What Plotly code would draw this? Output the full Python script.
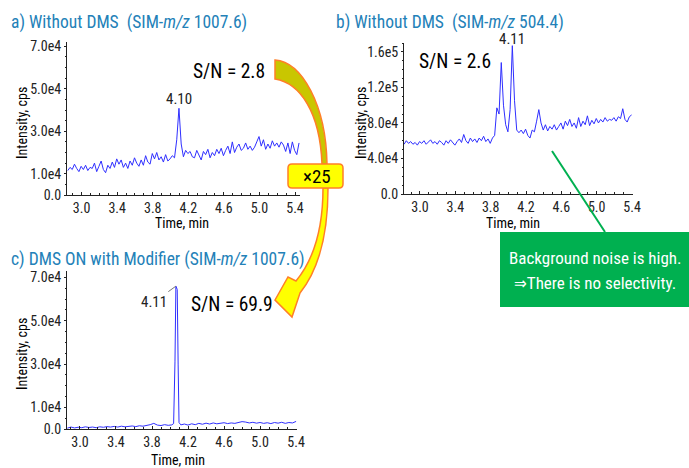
import numpy as np
import plotly.graph_objects as go

# ---------------- data ----------------
# panel a: without DMS, SIM m/z 1007.6 (intensity in thousands cps)
a_t0, a_step = 2.845, 0.025
a_vals = [11.5, 13.0, 12.0, 14.5, 12.5, 11.0, 13.5, 12.0, 14.0, 11.5,
          13.0, 12.5, 15.0, 11.0, 13.5, 16.0, 12.0, 10.5, 14.0, 12.5,
          15.5, 13.0, 17.0, 14.5, 16.5, 13.0, 15.0, 12.5, 16.0, 14.0,
          17.5, 15.0, 13.5, 16.5, 14.0, 18.5, 15.5, 14.5, 19.5, 17.0,
          20.0, 16.5, 18.0, 15.5, 19.0, 16.0, 17.0, 18.5, 17.5, 26.0,
          40.8, 24.0, 18.0, 21.0, 19.5, 20.5, 18.0, 17.5, 21.0, 19.0,
          16.5, 20.5, 19.0, 21.5, 17.5, 20.0, 18.5, 21.5, 19.5, 22.0,
          18.5, 21.0, 23.0, 19.5, 25.0, 20.0, 22.5, 24.0, 21.0, 22.0,
          24.5, 21.5, 23.0, 21.0, 22.5, 25.0, 27.5, 23.0, 26.0, 21.5,
          24.0, 22.0, 25.5, 23.0, 24.5, 22.5, 25.0, 23.5, 20.5, 24.5,
          19.5, 25.0, 21.0, 19.0, 24.5]
a_time = [round(a_t0 + a_step * i, 3) for i in range(len(a_vals))]

# panel b: without DMS, SIM m/z 504.4
b_t0, b_step = 2.82, 0.025
b_vals = [56, 60, 57, 59, 56, 58, 55, 59, 57, 60,
          56, 58, 61, 57, 59, 56, 60, 58, 55, 60,
          57, 61, 58, 55, 59, 62, 58, 67, 60, 57,
          63, 59, 62, 58, 63, 60, 65, 59, 62, 57,
          63, 66, 97, 90, 148, 100, 78, 70, 95, 167,
          105, 72, 69, 72, 68, 73, 66, 63, 72, 70,
          82, 95, 80, 72, 78, 71, 76, 73, 78, 72,
          76, 80, 73, 82, 77, 84, 76, 80, 74, 86,
          76, 82, 78, 88, 77, 83, 79, 85, 80, 84,
          81, 86, 82, 84, 83, 86, 82, 87, 85, 96,
          84, 81, 87, 89]
b_time = [round(b_t0 + b_step * i, 3) for i in range(len(b_vals))]

# panel c: DMS ON with modifier, SIM m/z 1007.6
c_time = [2.86, 2.90, 2.94, 2.98, 3.02, 3.06, 3.10, 3.14, 3.18, 3.22,
          3.26, 3.30, 3.34, 3.38, 3.42, 3.46, 3.50, 3.54, 3.58, 3.62,
          3.66, 3.70, 3.74, 3.78, 3.82, 3.86, 3.90, 3.94, 3.98, 4.02,
          4.04, 4.055, 4.065, 4.08, 4.09, 4.10, 4.12, 4.16, 4.20, 4.24,
          4.28, 4.32, 4.36, 4.40, 4.44, 4.48, 4.52, 4.56, 4.60, 4.64,
          4.68, 4.72, 4.76, 4.80, 4.84, 4.88, 4.92, 4.96, 5.00, 5.04,
          5.08, 5.12, 5.16, 5.20, 5.24, 5.28, 5.32, 5.36, 5.40]
c_vals = [0.4, 0.9, 0.5, 0.8, 0.6, 1.0, 0.7, 0.9, 0.6, 1.0,
          0.8, 1.1, 0.9, 1.2, 0.9, 1.3, 1.0, 1.2, 1.4, 1.1,
          1.5, 1.3, 1.6, 2.0, 2.6, 1.8, 1.6, 2.0, 1.7, 1.9,
          2.5, 31.0, 66.0, 64.5, 30.0, 3.0, 1.9, 2.3, 1.8, 2.4,
          2.0, 2.6, 2.2, 2.7, 2.3, 2.8, 2.4, 2.6, 2.9, 2.5,
          2.8, 2.6, 3.0, 3.4, 3.2, 2.8, 3.1, 2.7, 3.0, 2.6,
          2.9, 2.5, 3.0, 2.7, 3.1, 2.6, 3.0, 2.8, 3.5]

x_ticks = [3.0, 3.4, 3.8, 4.2, 4.6, 5.0, 5.4]
x_ticktext = ["3.0", "3.4", "3.8", "4.2", "4.6", "5.0", "5.4"]
ya_ticks = [0, 10000, 30000, 50000, 70000]
ya_text = ["0.0", "1.0e4", "3.0e4", "5.0e4", "7.0e4"]
yb_ticks = [0, 40000, 80000, 120000, 160000]
yb_text = ["0.0", "4.0e4", "8.0e4", "1.2e5", "1.6e5"]

peak_labels = ["4.10", "4.11", "4.11"]
sn_texts = ["S/N = 2.8", "S/N = 2.6", "S/N = 69.9"]

# ---------------- figure ----------------
W, H = 689, 468
FONT = "Liberation Sans Narrow, Arial Narrow, Roboto Condensed, DejaVu Sans Condensed, sans-serif"
TRACE = "#2f2fff"
TITLE_C = "#2381b8"


def X(p):
    return p / W


def Y(p):
    return 1 - p / H


a_y = np.array(a_vals) * 1000
b_y = np.array(b_vals) * 1000
c_y = np.array(c_vals) * 1000

fig = go.Figure()
fig.add_trace(go.Scatter(x=a_time, y=a_y, mode="lines", line=dict(color=TRACE, width=1),
                         xaxis="x", yaxis="y", showlegend=False))
fig.add_trace(go.Scatter(x=b_time, y=b_y, mode="lines", line=dict(color=TRACE, width=1),
                         xaxis="x2", yaxis="y2", showlegend=False))
fig.add_trace(go.Scatter(x=c_time, y=c_y, mode="lines", line=dict(color=TRACE, width=1),
                         xaxis="x3", yaxis="y3", showlegend=False))

axis_common = dict(showline=True, linecolor="#222", linewidth=1, showgrid=False,
                   zeroline=False, tickcolor="#222", automargin=False,
                   tickfont=dict(family=FONT, size=14, color="#222"), fixedrange=True)


def xaxis(dom, rng, anchor):
    return dict(axis_common, domain=dom, range=rng, anchor=anchor,
                tickmode="array", tickvals=x_ticks, ticktext=x_ticktext,
                ticks="inside", ticklen=3,
                minor=dict(dtick=0.1, tick0=3.0, ticks="inside", ticklen=2, tickcolor="#222"))


def yaxis(dom, rng, anchor, tv, tt, mdt):
    return dict(axis_common, domain=dom, range=rng, anchor=anchor,
                tickmode="array", tickvals=tv, ticktext=tt, ticks="outside", ticklen=2,
                minor=dict(dtick=mdt, tick0=0, ticks="outside", ticklen=1, tickcolor="#222"))


fig.update_layout(
    template="none",
    width=W, height=H, margin=dict(l=0, r=0, t=0, b=0, pad=0, autoexpand=False),
    paper_bgcolor="white", plot_bgcolor="white", showlegend=False,
    font=dict(family=FONT, color="black"),
    xaxis=xaxis([X(67), X(300)], [2.836, 5.456], "y"),
    yaxis=yaxis([Y(195), Y(42)], [0, 72000], "x", ya_ticks, ya_text, 5000),
    xaxis2=xaxis([X(404), X(633)], [2.819, 5.411], "y2"),
    yaxis2=yaxis([Y(194), Y(43)], [0, 170000], "x2", yb_ticks, yb_text, 10000),
    xaxis3=xaxis([X(67), X(297)], [2.856, 5.41], "y3"),
    yaxis3=yaxis([Y(429), Y(271)], [0, 73000], "x3", ya_ticks, ya_text, 5000),
)


def path(cmds):
    out = []
    for c, pts in cmds:
        out.append(c + " " + " ".join(f"{X(px):.5f},{Y(py):.5f}" for px, py in pts))
    return " ".join(out) + " Z"


shapes = []
# green pointer line + callout box
shapes.append(dict(type="line", xref="paper", yref="paper", x0=X(552), y0=Y(151), x1=X(605), y1=Y(232),
                   line=dict(color="#00b050", width=2)))
shapes.append(dict(type="rect", xref="paper", yref="paper", x0=X(500), y0=Y(232), x1=X(689), y1=Y(307),
                   fillcolor="#00b050", line=dict(width=0)))
# curved arrow, upper part
shapes.append(dict(type="path", xref="paper", yref="paper",
                   path=path([("M", [(275, 60)]), ("C", [(302, 62), (326, 105), (327, 164)]),
                              ("L", [(322, 164)]), ("C", [(320, 112), (300, 83), (275, 79)])]),
                   fillcolor="#c9c600", line=dict(color="#ff7f27", width=1.5)))
# curved arrow, lower part with head
shapes.append(dict(type="path", xref="paper", yref="paper",
                   path=path([("M", [(323, 188)]), ("C", [(323, 228), (315, 258), (296, 281)]),
                              ("L", [(288, 277)]), ("L", [(275, 300)]), ("L", [(292, 317)]),
                              ("L", [(300, 293)]), ("C", [(320, 268), (328, 230), (328, 188)])]),
                   fillcolor="#ffff00", line=dict(color="#ff7f27", width=1.5)))
# x25 box (rounded)
x0, x1, y0, y1, r = 288, 343, 164, 188, 4
shapes.append(dict(type="path", xref="paper", yref="paper",
                   path=path([("M", [(x0 + r, y0)]), ("L", [(x1 - r, y0)]), ("Q", [(x1, y0), (x1, y0 + r)]),
                              ("L", [(x1, y1 - r)]), ("Q", [(x1, y1), (x1 - r, y1)]),
                              ("L", [(x0 + r, y1)]), ("Q", [(x0, y1), (x0, y1 - r)]),
                              ("L", [(x0, y0 + r)]), ("Q", [(x0, y0), (x0 + r, y0)])]),
                   fillcolor="#ffff00", line=dict(color="#ff7f27", width=1.5)))
fig.update_layout(shapes=shapes)


def txt(s, px, py, size, color="black", xanchor="center"):
    return dict(text=s, xref="paper", yref="paper", x=X(px), y=Y(py), xanchor=xanchor,
                yanchor="middle", showarrow=False, font=dict(family=FONT, size=size, color=color))


ann = []
ann.append(txt("a) Without DMS\u00a0 (SIM-<i>m/z</i> 1007.6)", 9, 22, 17.5, TITLE_C, "left"))
ann.append(txt("b) Without DMS\u00a0 (SIM-<i>m/z</i> 504.4)", 334, 22, 17.5, TITLE_C, "left"))
ann.append(txt("c) DMS ON with Modifier (SIM-<i>m/z</i> 1007.6)", 9, 259, 17.5, TITLE_C, "left"))
ann.append(txt(sn_texts[0], 267, 71, 19.5, "black", "right"))
ann.append(txt(sn_texts[1], 417, 62, 19.5, "black", "left"))
ann.append(txt(sn_texts[2], 189, 304, 19.5, "black", "left"))
ann.append(txt("×25", 317, 176, 19))
ann.append(txt("Background noise is high.", 595, 258, 17, "white"))
ann.append(txt("⇒There is no selectivity.", 595, 283, 17, "white"))
# axis titles
for (px_, py_) in [(22, 123), (361, 123), (22, 354)]:
    a = txt("Intensity, cps", px_, py_, 14)
    a["textangle"] = -90
    ann.append(a)
for (px_, py_) in [(182, 223), (513, 223), (178, 460)]:
    ann.append(txt("Time, min", px_, py_, 14))

# peak labels (at data maxima)
ia = int(np.argmax(a_y))
ann.append(dict(text=peak_labels[0], x=a_time[ia], y=a_y[ia], xref="x", yref="y", showarrow=False,
                yanchor="middle", yshift=9, font=dict(family=FONT, size=15, color="#222")))
ib = int(np.argmax(b_y))
ann.append(dict(text=peak_labels[1], x=b_time[ib], y=b_y[ib], xref="x2", yref="y2", showarrow=False,
                yanchor="middle", yshift=7, font=dict(family=FONT, size=15, color="#222")))
ic = int(np.argmax(c_y))
ann.append(dict(text=peak_labels[2], x=c_time[ic], y=c_y[ic], xref="x3", yref="y3", showarrow=True,
                arrowhead=0, arrowwidth=1, arrowcolor="#777", ax=-22, ay=16, standoff=0,
                font=dict(family=FONT, size=15, color="#222")))
fig.update_layout(annotations=ann)

fig.write_html("out.html", config={"displayModeBar": False},
               post_script="document.body.style.margin='0';document.body.style.overflow='hidden';")
